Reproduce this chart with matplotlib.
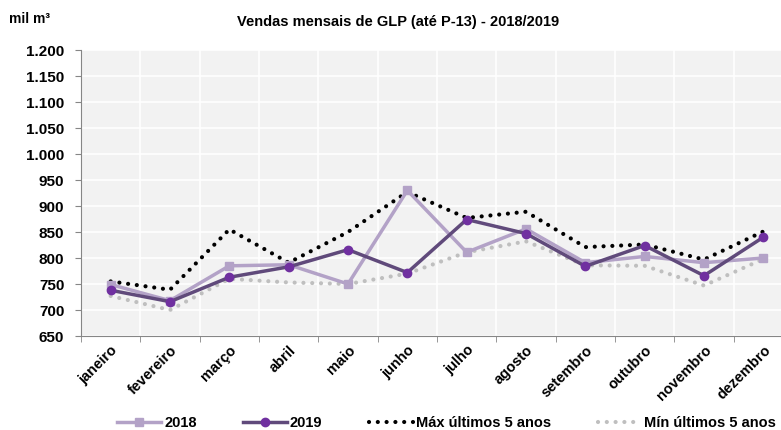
import matplotlib
matplotlib.use("Agg")
import matplotlib.pyplot as plt
import matplotlib.transforms as mtrans
import numpy as np

plt.rcParams['font.family'] = ['Liberation Sans', 'DejaVu Sans']
plt.rcParams['font.weight'] = 'bold'

months = ['janeiro', 'fevereiro', 'março', 'abril', 'maio', 'junho',
          'julho', 'agosto', 'setembro', 'outubro', 'novembro', 'dezembro']
v2018 = [749, 718, 785, 787, 750, 930, 811, 856, 791, 803, 791, 800]
v2019 = [738, 716, 763, 783, 816, 772, 874, 847, 784, 824, 766, 840]
vmax = [755, 739, 855, 791, 850, 927, 877, 889, 821, 826, 797, 851]
vmin = [727, 700, 760, 753, 750, 770, 811, 832, 786, 785, 747, 798]

fig = plt.figure(figsize=(7.81, 4.30), dpi=100)
ax = fig.add_axes([81 / 781, 94 / 430, 712 / 781, 286 / 430])
ax.set_facecolor('#F2F2F2')
x = np.arange(len(months))

ax.plot(x, vmax, color='black', ls=(0, (0.01, 2.1)), lw=3.0, dash_capstyle='round',
        label='Máx últimos 5 anos', zorder=3)
ax.plot(x, vmin, color='#BFBFBF', ls=(0, (0.01, 2.1)), lw=3.0, dash_capstyle='round',
        label='Mín últimos 5 anos', zorder=2)
ax.plot(x, v2018, color='#B3A2C7', lw=2.5, marker='s', ms=6, label='2018', zorder=4)
ax.plot(x, v2019, color='#604A7B', lw=2.5, marker='o', ms=6,
        mfc='#7030A0', mec='#7030A0', label='2019', zorder=5)

ax.set_xlim(-0.5, 11.5)
ax.set_ylim(650, 1200)
ax.set_yticks(np.arange(650, 1201, 50))
ax.set_yticklabels([f'{v:,}'.replace(',', '.') for v in range(650, 1201, 50)])
ax.set_xticks(x)
ax.set_xticklabels(months, rotation=45, ha='right', rotation_mode='anchor')
off = mtrans.ScaledTranslation(10 / 72, 0, fig.dpi_scale_trans)
for t in ax.get_xticklabels():
    t.set_transform(t.get_transform() + off)
ax.set_xticks(np.arange(-0.5, 12, 1), minor=True)
ax.tick_params(axis='x', which='major', length=0, pad=5, labelsize=10.5)
ax.tick_params(axis='x', which='minor', length=4, color='#868686')
ax.tick_params(axis='y', length=4, color='#868686', labelsize=11, pad=8)
ax.grid(True, which='minor', axis='x', color='white', lw=1.2)
ax.grid(True, which='major', axis='y', color='white', lw=1.2)
ax.set_axisbelow(True)
for s in ['top', 'right']:
    ax.spines[s].set_visible(False)
ax.spines['left'].set_color('#868686')
ax.spines['bottom'].set_color('#868686')

fig.text(0.51, 0.948, 'Vendas mensais de GLP (até P-13) - 2018/2019',
         ha='center', va='center', fontsize=10.5, fontweight='bold')
fig.text(0.012, 0.955, 'mil m³', ha='left', va='center', fontsize=10, fontweight='bold')

h, l = ax.get_legend_handles_labels()
order = [2, 3, 0, 1]
fig.legend([h[i] for i in order], [l[i] for i in order], ncol=4,
           loc='center', bbox_to_anchor=(0.572, 0.016), frameon=False,
           fontsize=10.5, columnspacing=3.2, handlelength=3, handletextpad=0.2)

fig.savefig('out.png', dpi=100)
